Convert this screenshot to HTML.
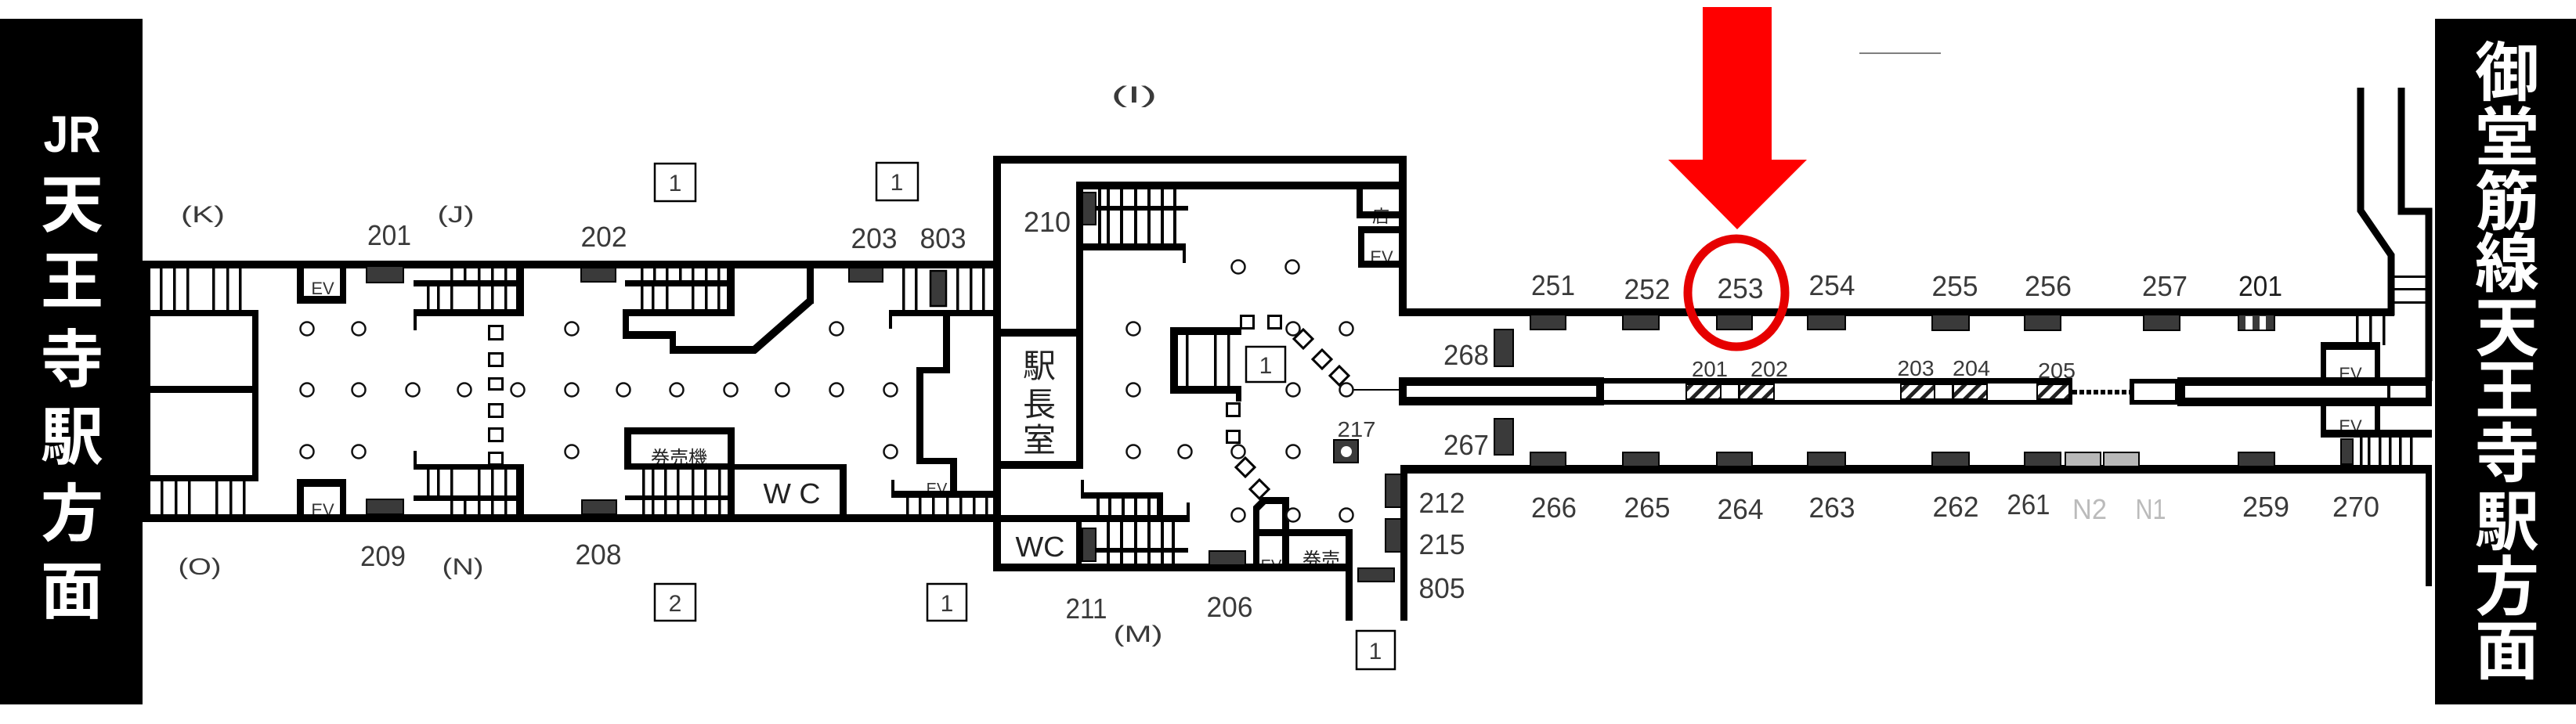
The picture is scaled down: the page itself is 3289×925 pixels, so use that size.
<!DOCTYPE html>
<html><head><meta charset="utf-8">
<style>
html,body{margin:0;padding:0;background:#fff;}
svg{display:block;}
text{font-family:"Liberation Sans","Noto Sans CJK JP",sans-serif;}
.n{font-size:36px;fill:#3a3a3a;text-anchor:middle;}
.p{font-size:30px;fill:#3a3a3a;text-anchor:middle;}
.s{font-size:28px;fill:#3a3a3a;text-anchor:middle;}
.e{font-size:22px;fill:#333;text-anchor:middle;}
.j{fill:#222;text-anchor:middle;}
.g{fill:#3a3a3a;stroke:#000;stroke-width:2;}
.c{fill:#fff;stroke:#111;stroke-width:2.5;}
.q{fill:#fff;stroke:#000;stroke-width:3;}
.b{fill:#fff;stroke:#000;stroke-width:2.5;}
.w{fill:#fff;font-weight:bold;text-anchor:middle;dominant-baseline:central;}
</style></head><body>
<svg width="3289" height="925" viewBox="0 0 3289 925" xmlns="http://www.w3.org/2000/svg">
<defs>
<pattern id="h" width="13" height="13" patternUnits="userSpaceOnUse" patternTransform="rotate(45)">
<rect x="0" y="0" width="5" height="13" fill="#222"/>
</pattern>
</defs>
<rect width="3289" height="925" fill="#fff"/>

<!-- black side bars -->
<rect x="0" y="24" width="182" height="876" fill="#000"/>
<rect x="3109" y="24" width="180" height="876" fill="#000"/>
<text class="w" x="92" y="171" style="font-size:66px" textLength="73" lengthAdjust="spacingAndGlyphs">JR</text>
<text class="w" x="92" y="262" style="font-size:80px">天</text>
<text class="w" x="92" y="360" style="font-size:80px">王</text>
<text class="w" x="92" y="460" style="font-size:80px">寺</text>
<text class="w" x="92" y="559" style="font-size:80px">駅</text>
<text class="w" x="92" y="657" style="font-size:80px">方</text>
<text class="w" x="92" y="756" style="font-size:80px">面</text>

<text class="w" x="3201" y="94" style="font-size:82px">御</text>
<text class="w" x="3201" y="177" style="font-size:82px">堂</text>
<text class="w" x="3201" y="259" style="font-size:82px">筋</text>
<text class="w" x="3201" y="338" style="font-size:82px">線</text>
<text class="w" x="3201" y="420" style="font-size:82px">天</text>
<text class="w" x="3201" y="500" style="font-size:82px">王</text>
<text class="w" x="3201" y="581" style="font-size:82px">寺</text>
<text class="w" x="3201" y="668" style="font-size:82px">駅</text>
<text class="w" x="3201" y="751" style="font-size:82px">方</text>
<text class="w" x="3201" y="833" style="font-size:82px">面</text>

<!-- labels -->
<text class="p" x="259" y="284" textLength="56" lengthAdjust="spacingAndGlyphs">(K)</text>
<text class="n" x="497" y="313" textLength="56" lengthAdjust="spacingAndGlyphs">201</text>
<text class="p" x="582" y="284" textLength="47" lengthAdjust="spacingAndGlyphs">(J)</text>
<text class="n" x="771" y="315" textLength="59" lengthAdjust="spacingAndGlyphs">202</text>
<text class="n" x="1116" y="317" textLength="59" lengthAdjust="spacingAndGlyphs">203</text>
<text class="n" x="1204" y="317" textLength="59" lengthAdjust="spacingAndGlyphs">803</text>
<text class="p" x="255" y="734" textLength="55" lengthAdjust="spacingAndGlyphs">(O)</text>
<text class="n" x="489" y="723" textLength="58" lengthAdjust="spacingAndGlyphs">209</text>
<text class="p" x="591" y="734" textLength="53" lengthAdjust="spacingAndGlyphs">(N)</text>
<text class="n" x="764" y="721" textLength="59" lengthAdjust="spacingAndGlyphs">208</text>
<text class="p" x="1448" y="131" textLength="59" lengthAdjust="spacingAndGlyphs">(I)</text>
<text class="n" x="1337" y="296" textLength="60" lengthAdjust="spacingAndGlyphs">210</text>
<text class="n" x="1387" y="790" textLength="53" lengthAdjust="spacingAndGlyphs">211</text>
<text class="p" x="1453" y="820" textLength="63" lengthAdjust="spacingAndGlyphs">(M)</text>
<text class="n" x="1570" y="788" textLength="59" lengthAdjust="spacingAndGlyphs">206</text>
<text class="s" x="1732" y="558" textLength="49" lengthAdjust="spacingAndGlyphs">217</text>
<text class="n" x="1841" y="655" textLength="59" lengthAdjust="spacingAndGlyphs">212</text>
<text class="n" x="1841" y="708" textLength="59" lengthAdjust="spacingAndGlyphs">215</text>
<text class="n" x="1841" y="764" textLength="59" lengthAdjust="spacingAndGlyphs">805</text>
<text class="n" x="1872" y="466" textLength="58" lengthAdjust="spacingAndGlyphs">268</text>
<text class="n" x="1872" y="581" textLength="58" lengthAdjust="spacingAndGlyphs">267</text>

<text class="n" x="1983" y="377" textLength="56" lengthAdjust="spacingAndGlyphs">251</text>
<text class="n" x="2103" y="382" textLength="59" lengthAdjust="spacingAndGlyphs">252</text>
<text class="n" x="2222" y="381" textLength="59" lengthAdjust="spacingAndGlyphs">253</text>
<text class="n" x="2339" y="377" textLength="59" lengthAdjust="spacingAndGlyphs">254</text>
<text class="n" x="2496" y="378" textLength="59" lengthAdjust="spacingAndGlyphs">255</text>
<text class="n" x="2615" y="378" textLength="60" lengthAdjust="spacingAndGlyphs">256</text>
<text class="n" x="2764" y="378" textLength="58" lengthAdjust="spacingAndGlyphs">257</text>
<text class="n" x="2886" y="378" textLength="56" lengthAdjust="spacingAndGlyphs" style="fill:#1e1e1e">201</text>

<text class="s" x="2183" y="481" textLength="46" lengthAdjust="spacingAndGlyphs">201</text>
<text class="s" x="2259" y="481" textLength="48" lengthAdjust="spacingAndGlyphs">202</text>
<text class="s" x="2446" y="480" textLength="47" lengthAdjust="spacingAndGlyphs">203</text>
<text class="s" x="2517" y="480" textLength="48" lengthAdjust="spacingAndGlyphs">204</text>
<text class="s" x="2626" y="483" textLength="48" lengthAdjust="spacingAndGlyphs">205</text>

<text class="n" x="1984" y="661" textLength="58" lengthAdjust="spacingAndGlyphs">266</text>
<text class="n" x="2103" y="661" textLength="59" lengthAdjust="spacingAndGlyphs">265</text>
<text class="n" x="2222" y="663" textLength="59" lengthAdjust="spacingAndGlyphs">264</text>
<text class="n" x="2339" y="661" textLength="59" lengthAdjust="spacingAndGlyphs">263</text>
<text class="n" x="2497" y="660" textLength="59" lengthAdjust="spacingAndGlyphs">262</text>
<text class="n" x="2590" y="657" textLength="55" lengthAdjust="spacingAndGlyphs">261</text>
<text class="n" x="2668" y="663" textLength="44" lengthAdjust="spacingAndGlyphs" style="fill:#bbb">N2</text>
<text class="n" x="2746" y="663" textLength="39" lengthAdjust="spacingAndGlyphs" style="fill:#bbb">N1</text>
<text class="n" x="2893" y="660" textLength="60" lengthAdjust="spacingAndGlyphs">259</text>
<text class="n" x="3008" y="660" textLength="60" lengthAdjust="spacingAndGlyphs">270</text>

<!-- boxed numbers -->
<rect class="b" x="836" y="209" width="52" height="48"/><text class="p" x="862" y="244">1</text>
<rect class="b" x="1119" y="208" width="53" height="48"/><text class="p" x="1145" y="243">1</text>
<rect class="b" x="836" y="746" width="52" height="47"/><text class="p" x="862" y="781">2</text>
<rect class="b" x="1184" y="746" width="50" height="47"/><text class="p" x="1209" y="781">1</text>
<rect class="b" x="1732" y="806" width="49" height="49"/><text class="p" x="1756" y="842">1</text>
<rect class="b" x="1591" y="443" width="50" height="45"/><text class="p" x="1616" y="477">1</text>

<!-- room labels (drawn before walls so walls clip) -->
<text class="e" x="412" y="376">EV</text>
<text class="e" x="412" y="659">EV</text>
<text class="e" x="1196" y="631" style="font-size:20px">EV</text>
<text class="e" x="1764" y="336">EV</text>
<text class="e" x="1623" y="729" style="font-size:20px">EV</text>
<text class="e" x="3001" y="485">EV</text>
<text class="e" x="3001" y="552">EV</text>
<text class="j" x="1763" y="284" style="font-size:22px">店</text>
<text class="j" x="867" y="593" style="font-size:24px">券売機</text>
<text class="j" x="1687" y="723" style="font-size:24px">券売</text>
<text class="j" x="1011" y="643" style="font-size:36px" textLength="73" lengthAdjust="spacingAndGlyphs">W C</text>
<text class="j" x="1328" y="711" style="font-size:36px" textLength="63" lengthAdjust="spacingAndGlyphs">WC</text>
<text class="j" x="1327" y="482" style="font-size:42px">駅</text>
<text class="j" x="1327" y="531" style="font-size:42px">長</text>
<text class="j" x="1327" y="577" style="font-size:42px">室</text>

<!-- walls -->
<g fill="#000">
<!-- left corridor -->
<rect x="182" y="333" width="1086" height="10"/>
<rect x="182" y="657" width="1086" height="10"/>
<rect x="182" y="333" width="10" height="334"/>
<rect x="192" y="396" width="138" height="8"/>
<rect x="322" y="396" width="8" height="219"/>
<rect x="192" y="493" width="130" height="9"/>
<rect x="192" y="607" width="138" height="8"/>
<!-- K stairs -->
<rect x="204" y="343" width="3.5" height="53"/><rect x="221" y="343" width="3.5" height="53"/><rect x="238" y="343" width="3.5" height="53"/>
<rect x="271" y="343" width="3.5" height="53"/><rect x="289" y="343" width="3.5" height="53"/><rect x="305" y="343" width="3.5" height="53"/>
<!-- O stairs -->
<rect x="205" y="615" width="3.5" height="42"/><rect x="223" y="615" width="3.5" height="42"/><rect x="240" y="615" width="3.5" height="42"/>
<rect x="275" y="615" width="3.5" height="42"/><rect x="293" y="615" width="3.5" height="42"/><rect x="310" y="615" width="3.5" height="42"/>
<!-- EV boxes left -->
<rect x="379" y="343" width="9" height="45"/><rect x="434" y="343" width="8" height="45"/><rect x="379" y="378" width="63" height="10"/>
<rect x="379" y="612" width="63" height="10"/><rect x="379" y="612" width="9" height="45"/><rect x="434" y="612" width="8" height="45"/>
<!-- J stairs top -->
<rect x="528" y="358" width="141" height="8"/><rect x="528" y="395" width="141" height="9"/><rect x="659" y="343" width="10" height="61"/><rect x="528" y="395" width="4" height="27"/>
<rect x="575" y="343" width="3.5" height="15"/><rect x="592" y="343" width="3.5" height="15"/><rect x="610" y="343" width="3.5" height="15"/><rect x="627" y="343" width="3.5" height="15"/><rect x="644" y="343" width="3.5" height="15"/>
<rect x="545" y="366" width="3.5" height="29"/><rect x="558" y="366" width="3.5" height="29"/><rect x="575" y="366" width="3.5" height="29"/><rect x="610" y="366" width="3.5" height="29"/><rect x="627" y="366" width="3.5" height="29"/><rect x="644" y="366" width="3.5" height="29"/>
<!-- N stairs bottom -->
<rect x="528" y="593" width="141" height="7"/><rect x="528" y="633" width="141" height="7"/><rect x="659" y="593" width="10" height="64"/><rect x="528" y="576" width="4" height="24"/>
<rect x="545" y="600" width="3.5" height="33"/><rect x="558" y="600" width="3.5" height="33"/><rect x="575" y="600" width="3.5" height="33"/><rect x="610" y="600" width="3.5" height="33"/><rect x="627" y="600" width="3.5" height="33"/><rect x="644" y="600" width="3.5" height="33"/>
<rect x="575" y="640" width="3.5" height="17"/><rect x="592" y="640" width="3.5" height="17"/><rect x="610" y="640" width="3.5" height="17"/><rect x="627" y="640" width="3.5" height="17"/><rect x="644" y="640" width="3.5" height="17"/>
<!-- 202 stairs -->
<rect x="798" y="358" width="140" height="8"/><rect x="795" y="395" width="143" height="9"/><rect x="928" y="343" width="10" height="61"/>
<rect x="818" y="343" width="3.5" height="15"/><rect x="834" y="343" width="3.5" height="15"/><rect x="850" y="343" width="3.5" height="15"/><rect x="867" y="343" width="3.5" height="15"/><rect x="883" y="343" width="3.5" height="15"/><rect x="900" y="343" width="3.5" height="15"/><rect x="916" y="343" width="3.5" height="15"/>
<rect x="818" y="366" width="3.5" height="29"/><rect x="832" y="366" width="3.5" height="29"/><rect x="850" y="366" width="3.5" height="29"/><rect x="883" y="366" width="3.5" height="29"/><rect x="900" y="366" width="3.5" height="29"/><rect x="916" y="366" width="3.5" height="29"/>
<rect x="795" y="395" width="8" height="38"/><rect x="795" y="423" width="68" height="10"/><rect x="855" y="423" width="8" height="29"/><rect x="855" y="442" width="110" height="10"/>
<rect x="1030" y="343" width="9" height="45"/>
<!-- 券売機 box + 208 stairs + WC -->
<rect x="797" y="546" width="141" height="9"/><rect x="797" y="546" width="9" height="54"/><rect x="929" y="546" width="9" height="111"/><rect x="797" y="592" width="141" height="8"/>
<rect x="798" y="633" width="131" height="6"/>
<rect x="820" y="600" width="3.5" height="57"/><rect x="832" y="600" width="3.5" height="57"/><rect x="848" y="600" width="3.5" height="57"/><rect x="864" y="600" width="3.5" height="57"/><rect x="883" y="600" width="3.5" height="57"/><rect x="899" y="600" width="3.5" height="57"/><rect x="917" y="600" width="3.5" height="57"/>
<rect x="938" y="593" width="143" height="7"/><rect x="1072" y="593" width="9" height="64"/>
<!-- 803 area -->
<rect x="1152" y="343" width="3.5" height="53"/><rect x="1168" y="343" width="3.5" height="53"/><rect x="1221" y="343" width="3.5" height="53"/><rect x="1238" y="343" width="3.5" height="53"/><rect x="1254" y="343" width="3.5" height="53"/>
<rect x="1135" y="396" width="133" height="8"/><rect x="1135" y="396" width="4" height="24"/>
<rect x="1204" y="404" width="9" height="73"/><rect x="1170" y="469" width="43" height="8"/><rect x="1170" y="469" width="9" height="124"/><rect x="1170" y="585" width="52" height="8"/><rect x="1213" y="585" width="9" height="44"/>
<rect x="1138" y="627" width="130" height="9"/><rect x="1138" y="613" width="4" height="23"/>
<rect x="1157" y="636" width="3.5" height="21"/><rect x="1173" y="636" width="3.5" height="21"/><rect x="1190" y="636" width="3.5" height="21"/><rect x="1208" y="636" width="3.5" height="21"/><rect x="1225" y="636" width="3.5" height="21"/><rect x="1242" y="636" width="3.5" height="21"/><rect x="1258" y="636" width="3.5" height="21"/>

<!-- office block -->
<rect x="1268" y="199" width="10" height="531"/>
<rect x="1268" y="199" width="528" height="10"/>
<rect x="1786" y="199" width="10" height="205"/>
<rect x="1374" y="232" width="422" height="10"/>
<rect x="1374" y="232" width="9" height="367"/>
<rect x="1278" y="420" width="105" height="10"/>
<rect x="1278" y="589" width="105" height="10"/>
<!-- 210 stairs -->
<rect x="1402" y="242" width="4" height="69"/><rect x="1413" y="242" width="4" height="69"/><rect x="1430" y="242" width="4" height="69"/><rect x="1448" y="242" width="4" height="69"/><rect x="1465" y="242" width="4" height="69"/><rect x="1482" y="242" width="4" height="69"/><rect x="1498" y="242" width="4" height="69"/>
<rect x="1400" y="263" width="117" height="6"/><rect x="1383" y="311" width="130" height="9"/><rect x="1510" y="311" width="4" height="25"/>
<!-- 店 / EV -->
<rect x="1732" y="242" width="8" height="37"/><rect x="1732" y="270" width="54" height="9"/>
<rect x="1734" y="289" width="52" height="9"/><rect x="1734" y="289" width="8" height="53"/><rect x="1734" y="333" width="52" height="9"/>
<!-- platform top wall -->
<rect x="1786" y="394" width="1271" height="10"/>
<!-- WC / 211 -->
<rect x="1278" y="658" width="241" height="9"/>
<rect x="1374" y="667" width="7" height="53"/>
<rect x="1380" y="613" width="4" height="24"/><rect x="1380" y="629" width="105" height="8"/><rect x="1477" y="629" width="8" height="38"/>
<rect x="1400" y="637" width="4" height="21"/><rect x="1415" y="637" width="4" height="21"/><rect x="1432" y="637" width="4" height="21"/><rect x="1448" y="637" width="4" height="21"/><rect x="1465" y="637" width="4" height="21"/>
<rect x="1515" y="642" width="4" height="25"/>
<rect x="1413" y="667" width="4" height="53"/><rect x="1430" y="667" width="4" height="53"/><rect x="1448" y="667" width="4" height="53"/><rect x="1465" y="667" width="4" height="53"/><rect x="1482" y="667" width="4" height="53"/><rect x="1496" y="667" width="4" height="53"/>
<rect x="1400" y="700" width="117" height="6"/>
<rect x="1268" y="720" width="459" height="10"/>
<!-- EV/券売 -->
<polygon points="1600,723 1600,647 1612,635 1646,635 1646,644 1616,644 1608,652 1608,723"/>
<rect x="1637" y="635" width="9" height="88"/>
<rect x="1600" y="676" width="127" height="9"/>
<rect x="1718" y="676" width="9" height="117"/>
<rect x="1788" y="595" width="9" height="198"/>
<!-- center stairs -->
<rect x="1494" y="418" width="10" height="85"/><rect x="1494" y="418" width="91" height="10"/><rect x="1494" y="493" width="91" height="10"/><rect x="1578" y="493" width="7" height="20"/>
<rect x="1514" y="428" width="3.5" height="65"/><rect x="1550" y="428" width="3.5" height="65"/><rect x="1567" y="428" width="3.5" height="65"/>

<!-- platform -->
<rect x="1788" y="594" width="1317" height="11"/>
<rect x="1786" y="482" width="262" height="11"/><rect x="1786" y="507" width="262" height="11"/><rect x="1786" y="482" width="10" height="36"/><rect x="2038" y="482" width="10" height="36"/>
<rect x="2048" y="483" width="598" height="7"/><rect x="2048" y="511" width="598" height="6"/><rect x="2641" y="483" width="5" height="34"/>
<rect x="2780" y="482" width="325" height="11"/><rect x="2780" y="508" width="325" height="11"/><rect x="2780" y="482" width="10" height="37"/><rect x="3048" y="482" width="4" height="37"/><rect x="3097" y="482" width="8" height="37"/>
<!-- right structure -->
<rect x="3057" y="352" width="40" height="3"/><rect x="3057" y="368" width="40" height="3"/><rect x="3057" y="385" width="40" height="3"/>
<rect x="3008" y="404" width="3.5" height="37"/><rect x="3025" y="404" width="3.5" height="37"/><rect x="3042" y="404" width="3.5" height="37"/>
<rect x="2963" y="437" width="76" height="10"/><rect x="2963" y="437" width="7" height="46"/><rect x="3032" y="437" width="7" height="46"/>
<rect x="2963" y="518" width="7" height="41"/><rect x="3032" y="518" width="7" height="41"/><rect x="2963" y="549" width="142" height="10"/>
<rect x="3013" y="559" width="3.5" height="37"/><rect x="3023" y="559" width="3.5" height="37"/><rect x="3037" y="559" width="3.5" height="37"/><rect x="3050" y="559" width="3.5" height="37"/><rect x="3063" y="559" width="3.5" height="37"/><rect x="3077" y="559" width="3.5" height="37"/>
<rect x="3097" y="594" width="8" height="155"/>
</g>
<line x1="962" y1="448" x2="1035" y2="384" stroke="#000" stroke-width="10"/>
<polyline points="3014,112 3014,269 3053,326 3053,403" fill="none" stroke="#000" stroke-width="9"/>
<polyline points="3066,112 3066,270 3101,270 3101,487" fill="none" stroke="#000" stroke-width="9"/>

<!-- hatched gates -->
<g stroke="#000" stroke-width="2" fill="url(#h)">
<rect x="2153" y="491" width="44" height="19"/>
<rect x="2221" y="491" width="44" height="19"/>
<rect x="2427" y="491" width="43" height="19"/>
<rect x="2494" y="491" width="43" height="19"/>
<rect x="2601" y="491" width="41" height="19"/>
</g>
<g stroke="#000" stroke-width="2" fill="#fff">
<rect x="2197" y="491" width="23" height="19"/>
<rect x="2470" y="491" width="23" height="19"/>
</g>
<line x1="2646" y1="501" x2="2719" y2="501" stroke="#000" stroke-width="6" stroke-dasharray="6 3"/>
<rect x="2722" y="487" width="58" height="27" fill="#fff" stroke="#000" stroke-width="6"/>

<!-- gates -->
<rect class="g" x="468" y="340" width="47" height="21"/>
<rect class="g" x="468" y="638" width="47" height="19"/>
<rect class="g" x="742" y="342" width="44" height="18"/>
<rect class="g" x="743" y="639" width="44" height="18"/>
<rect class="g" x="1084" y="342" width="43" height="18"/>
<rect class="g" x="1188" y="346" width="20" height="45" style="stroke-width:2.5"/>
<rect class="g" x="1382" y="246" width="17" height="41"/>
<rect class="g" x="1382" y="675" width="17" height="42"/>
<rect class="g" x="1544" y="704" width="46" height="18"/>
<rect class="g" x="1734" y="726" width="46" height="17"/>
<rect class="g" x="1769" y="606" width="20" height="42"/>
<rect class="g" x="1769" y="663" width="20" height="42"/>
<rect class="g" x="1908" y="421" width="24" height="47"/>
<rect class="g" x="1908" y="535" width="24" height="46"/>
<rect class="g" x="1703" y="562" width="31" height="29"/>
<circle cx="1719" cy="577" r="7" fill="#fff"/>
<rect class="g" x="2989" y="561" width="15" height="32"/>
<!-- platform gates top -->
<rect class="g" x="1954" y="402" width="45" height="19"/>
<rect class="g" x="2072" y="402" width="46" height="19"/>
<rect class="g" x="2192" y="402" width="45" height="19"/>
<rect class="g" x="2308" y="402" width="48" height="19"/>
<rect class="g" x="2467" y="402" width="47" height="20"/>
<rect class="g" x="2585" y="402" width="46" height="20"/>
<rect class="g" x="2737" y="402" width="46" height="20"/>
<rect class="g" x="2858" y="402" width="46" height="20"/>
<rect x="2867" y="404" width="9" height="17" fill="#fff"/>
<rect x="2885" y="404" width="8" height="17" fill="#fff"/>
<!-- platform gates bottom -->
<rect class="g" x="1954" y="578" width="45" height="18"/>
<rect class="g" x="2072" y="578" width="46" height="18"/>
<rect class="g" x="2192" y="578" width="45" height="18"/>
<rect class="g" x="2308" y="578" width="48" height="18"/>
<rect class="g" x="2467" y="578" width="47" height="18"/>
<rect class="g" x="2585" y="578" width="46" height="18"/>
<rect x="2637" y="578" width="45" height="18" fill="#b8b8b8" stroke="#000" stroke-width="2"/>
<rect x="2686" y="578" width="45" height="18" fill="#b8b8b8" stroke="#000" stroke-width="2"/>
<rect class="g" x="2858" y="578" width="46" height="18"/>

<!-- squares -->
<rect class="q" x="624.5" y="416.5" width="17" height="17"/>
<rect class="q" x="624.5" y="451.5" width="17" height="16"/>
<rect class="q" x="624.5" y="483.5" width="17" height="14"/>
<rect class="q" x="624.5" y="516.5" width="17" height="16"/>
<rect class="q" x="624.5" y="547.5" width="17" height="16"/>
<rect class="q" x="624.5" y="578.5" width="17" height="15"/>
<rect class="q" x="1584.5" y="403.5" width="16" height="16"/>
<rect class="q" x="1619.5" y="403.5" width="16" height="16"/>
<rect class="q" x="1566.5" y="515.5" width="16" height="16"/>
<rect class="q" x="1566.5" y="550.5" width="16" height="15"/>
<g class="q">
<rect x="1655.5" y="424.5" width="17" height="17" transform="rotate(45 1664 433)"/>
<rect x="1679.5" y="450.5" width="17" height="17" transform="rotate(45 1688 459)"/>
<rect x="1701.5" y="471.5" width="17" height="17" transform="rotate(45 1710 480)"/>
<rect x="1581.5" y="588.5" width="17" height="17" transform="rotate(45 1590 597)"/>
<rect x="1599.5" y="616.5" width="17" height="17" transform="rotate(45 1608 625)"/>
</g>
<line x1="1728" y1="498" x2="1788" y2="498" stroke="#000" stroke-width="2"/>

<!-- pillars -->
<g class="c">
<circle cx="392" cy="420" r="8.5"/><circle cx="458" cy="420" r="8.5"/><circle cx="730" cy="420" r="8.5"/><circle cx="1068" cy="420" r="8.5"/>
<circle cx="392" cy="498" r="8.5"/><circle cx="458" cy="498" r="8.5"/><circle cx="527" cy="498" r="8.5"/><circle cx="593" cy="498" r="8.5"/><circle cx="661" cy="498" r="8.5"/><circle cx="730" cy="498" r="8.5"/><circle cx="796" cy="498" r="8.5"/><circle cx="864" cy="498" r="8.5"/><circle cx="933" cy="498" r="8.5"/><circle cx="999" cy="498" r="8.5"/><circle cx="1068" cy="498" r="8.5"/><circle cx="1137" cy="498" r="8.5"/>
<circle cx="392" cy="577" r="8.5"/><circle cx="458" cy="577" r="8.5"/><circle cx="730" cy="577" r="8.5"/><circle cx="1137" cy="577" r="8.5"/>
<circle cx="1581" cy="341" r="8.5"/><circle cx="1650" cy="341" r="8.5"/>
<circle cx="1447" cy="420" r="8.5"/><circle cx="1651" cy="420" r="8.5"/><circle cx="1719" cy="420" r="8.5"/>
<circle cx="1447" cy="498" r="8.5"/><circle cx="1651" cy="498" r="8.5"/><circle cx="1719" cy="498" r="8.5"/>
<circle cx="1447" cy="577" r="8.5"/><circle cx="1513" cy="577" r="8.5"/><circle cx="1581" cy="577" r="8.5"/><circle cx="1651" cy="577" r="8.5"/>
<circle cx="1581" cy="658" r="8.5"/><circle cx="1651" cy="658" r="8.5"/><circle cx="1719" cy="658" r="8.5"/>
</g>

<!-- annotation -->
<line x1="2374" y1="68" x2="2478" y2="68" stroke="#555" stroke-width="1.5"/>
<polygon fill="#ff0000" points="2174,9 2262,9 2262,204 2307,204 2218,293 2130,204 2174,204"/>
<ellipse cx="2217" cy="374" rx="62" ry="69" fill="none" stroke="#e60000" stroke-width="11"/>
</svg>
</body></html>
